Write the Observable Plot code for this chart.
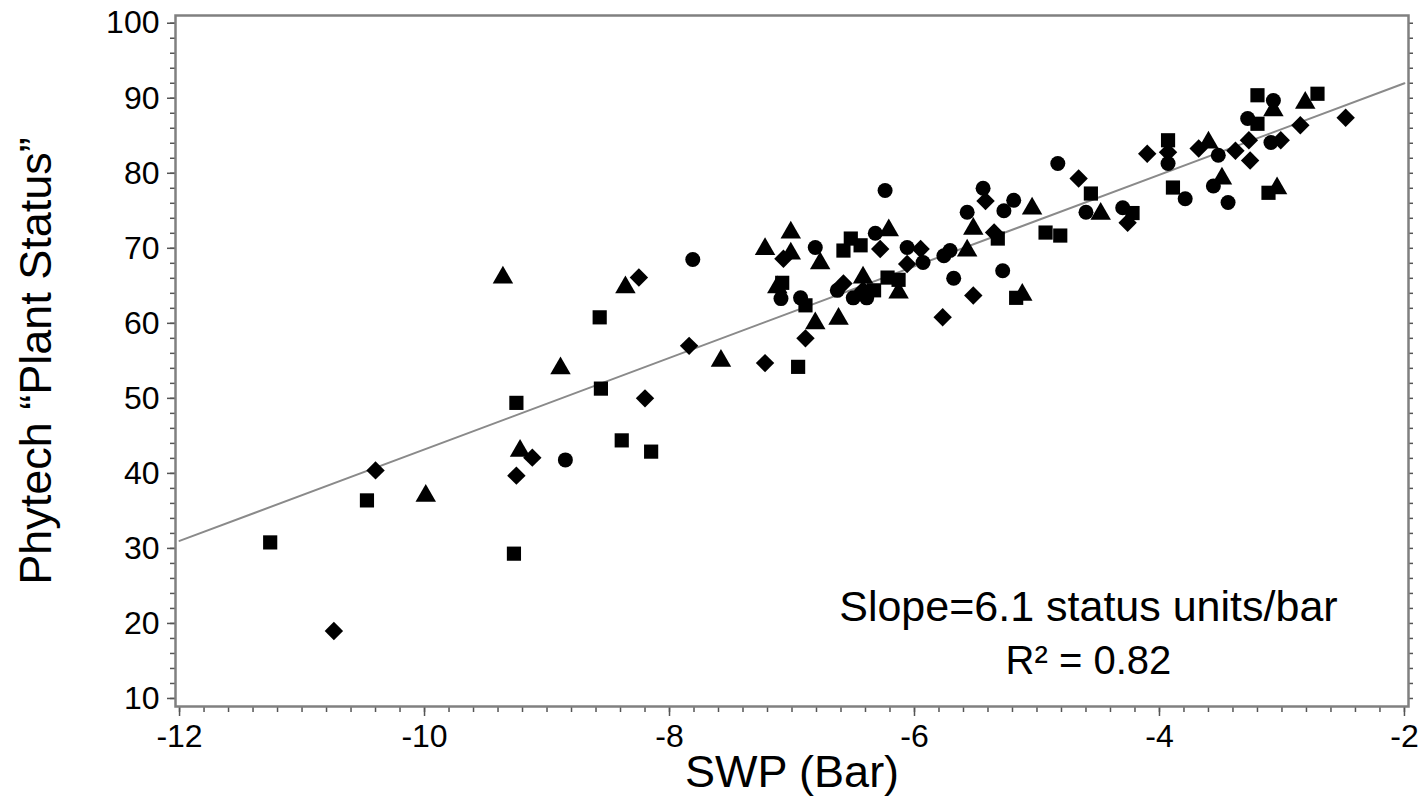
<!DOCTYPE html>
<html>
<head>
<meta charset="utf-8">
<script src="https://cdn.jsdelivr.net/npm/d3@7"></script>
<script src="https://cdn.jsdelivr.net/npm/@observablehq/plot@0.6"></script>
<style>
  html, body { margin: 0; padding: 0; background: #fff; }
  #chart { width: 1425px; height: 810px; }
  svg { font-family: "Liberation Sans", Arial, sans-serif; }
</style>
</head>
<body>
<div id="chart"></div>
<script>
// ---- data ----
const squareX = [-11.26,-10.47,-9.25,-9.27,-8.57,-8.56,-8.39,-8.15,-6.95,-7.08,-6.89,-6.52,-6.44,-6.58,-6.33,-6.22,-6.13,-5.32,-4.93,-4.81,-4.56,-5.17,-4.22,-3.93,-3.89,-3.20,-2.71,-3.20,-3.11];
const squareY = [30.8,36.4,49.4,29.3,60.8,51.3,44.4,42.9,54.2,65.4,62.4,71.3,70.4,69.7,64.4,66.1,65.8,71.3,72.1,71.7,77.3,63.4,74.7,84.4,78.1,90.4,90.6,86.6,77.4];

const triangleX = [-9.36,-8.89,-8.36,-9.22,-9.99,-7.58,-7.22,-7.01,-7.01,-7.12,-6.77,-6.81,-6.62,-6.42,-6.21,-6.13,-5.57,-5.52,-5.04,-4.48,-5.12,-3.07,-2.81,-3.04,-3.49,-3.60];
const triangleY = [66.1,54.0,64.8,43.0,37.0,55.0,69.9,72.1,69.3,64.8,68.0,60.0,60.6,66.1,72.4,64.1,69.7,72.6,75.3,74.6,63.8,88.4,89.4,78.0,79.3,84.1];

const circleX = [-8.85,-7.81,-6.81,-7.09,-6.93,-6.63,-6.50,-6.39,-6.32,-6.24,-6.06,-5.93,-5.76,-5.71,-5.68,-5.28,-5.44,-5.57,-5.27,-5.19,-4.83,-4.60,-4.30,-3.93,-3.52,-3.79,-3.56,-3.44,-3.07,-3.28,-3.09];
const circleY = [41.8,68.5,70.1,63.3,63.4,64.4,63.4,63.4,72.0,77.7,70.1,68.1,69.0,69.7,66.0,67.0,78.0,74.8,75.0,76.4,81.3,74.8,75.4,81.3,82.4,76.6,78.3,76.1,89.7,87.3,84.1];

const diamondX = [-10.74,-10.40,-9.25,-9.12,-8.25,-8.20,-7.84,-7.22,-6.89,-7.07,-6.58,-6.42,-6.28,-5.95,-6.06,-5.77,-5.52,-5.42,-5.35,-4.66,-4.26,-4.10,-3.93,-3.68,-3.38,-3.27,-3.26,-3.01,-2.85,-2.48];
const diamondY = [19.0,40.4,39.7,42.1,66.1,50.0,57.0,54.7,58.0,68.6,65.3,64.4,69.9,69.9,67.9,60.8,63.7,76.3,72.1,79.3,73.4,82.6,82.8,83.3,83.0,84.4,81.7,84.4,86.4,87.4];

// fitted regression line end points
const fitX = [-12, -2];
const fitY = [31.0, 92.0];

// axis ticks and labels
const xTicks = [-12, -10, -8, -6, -4, -2];
const yTicks = [10, 20, 30, 40, 50, 60, 70, 80, 90, 100];
const xMinor = d3.range(-12, -1.99, 0.2);
const yMinor = d3.range(10, 100.01, 2);
const xLabel = "SWP (Bar)";
const yLabel = "Phytech \u201CPlant Status\u201D";
const annotX = [-4.58, -4.58];
const annotY = [22.1, 15.0];
const annotText = ["Slope=6.1 status units/bar", "R\u00B2 = 0.82"];
const annotSize = [43, 40];

const pts = (xs, ys) => xs.map((x, i) => ({x, y: ys[i]}));
const squares = pts(squareX, squareY);
const triangles = pts(triangleX, triangleY);
const circles = pts(circleX, circleY);
const diamonds = pts(diamondX, diamondY);
const fit = pts(fitX, fitY);
const annots = annotText.map((t, i) => ({x: annotX[i], y: annotY[i], t}));

const font = "Liberation Sans, Arial, sans-serif";

const chart = Plot.plot({
  width: 1425,
  height: 810,
  marginLeft: 175,
  marginRight: 17,
  marginTop: 15,
  marginBottom: 104,
  style: {fontFamily: font, background: "#fff", color: "#000"},
  x: {domain: [-12.033, -1.967]},
  y: {domain: [8.93, 101.03]},
  marks: [
    // minor ticks
    Plot.axisX({ticks: xMinor, tickSize: 6, tickFormat: () => "", stroke: "#555", strokeWidth: 1.5, label: null}),
    Plot.axisY({ticks: yMinor, tickSize: 5, tickFormat: () => "", stroke: "#555", strokeWidth: 1.5, label: null}),
    Plot.axisY({anchor: "right", ticks: yMinor, tickSize: 4, tickFormat: () => "", stroke: "#555", strokeWidth: 1.5, label: null}),
    // major ticks + labels
    Plot.axisX({ticks: xTicks, tickSize: 10, tickPadding: 8, fontSize: 32, stroke: "#555", strokeWidth: 1.5, fill: "#000", label: null, tickFormat: d => String(d)}),
    Plot.axisY({ticks: yTicks, tickSize: 8, tickPadding: 8, fontSize: 32, stroke: "#555", strokeWidth: 1.5, fill: "#000", label: null}),
    Plot.frame({stroke: "#808080", strokeWidth: 2.5}),
    Plot.line(fit, {x: "x", y: "y", stroke: "#8a8a8a", strokeWidth: 2}),
    Plot.dot(circles, {x: "x", y: "y", symbol: "circle", r: 7.5, fill: "#000", stroke: "none"}),
    Plot.dot(squares, {x: "x", y: "y", symbol: "square", r: 8, fill: "#000", stroke: "none"}),
    Plot.dot(triangles, {x: "x", y: "y", symbol: "triangle", r: 7.6, fill: "#000", stroke: "none"}),
    Plot.dot(diamonds, {x: "x", y: "y", symbol: "diamond2", r: 8.3, fill: "#000", stroke: "none"}),
    Plot.text([annots[0]], {x: "x", y: "y", text: "t", fontSize: annotSize[0], fill: "#000", textAnchor: "middle"}),
    Plot.text([annots[1]], {x: "x", y: "y", text: "t", fontSize: annotSize[1], fill: "#000", textAnchor: "middle"}),
    Plot.text([xLabel], {frameAnchor: "bottom", text: d => d, dy: 80, fontSize: 45, fill: "#000", textAnchor: "middle"}),
    Plot.text([yLabel], {frameAnchor: "left", text: d => d, rotate: -90, dx: -139, fontSize: 45, fill: "#000", textAnchor: "middle"})
  ]
});
document.getElementById("chart").appendChild(chart);
</script>
</body>
</html>
